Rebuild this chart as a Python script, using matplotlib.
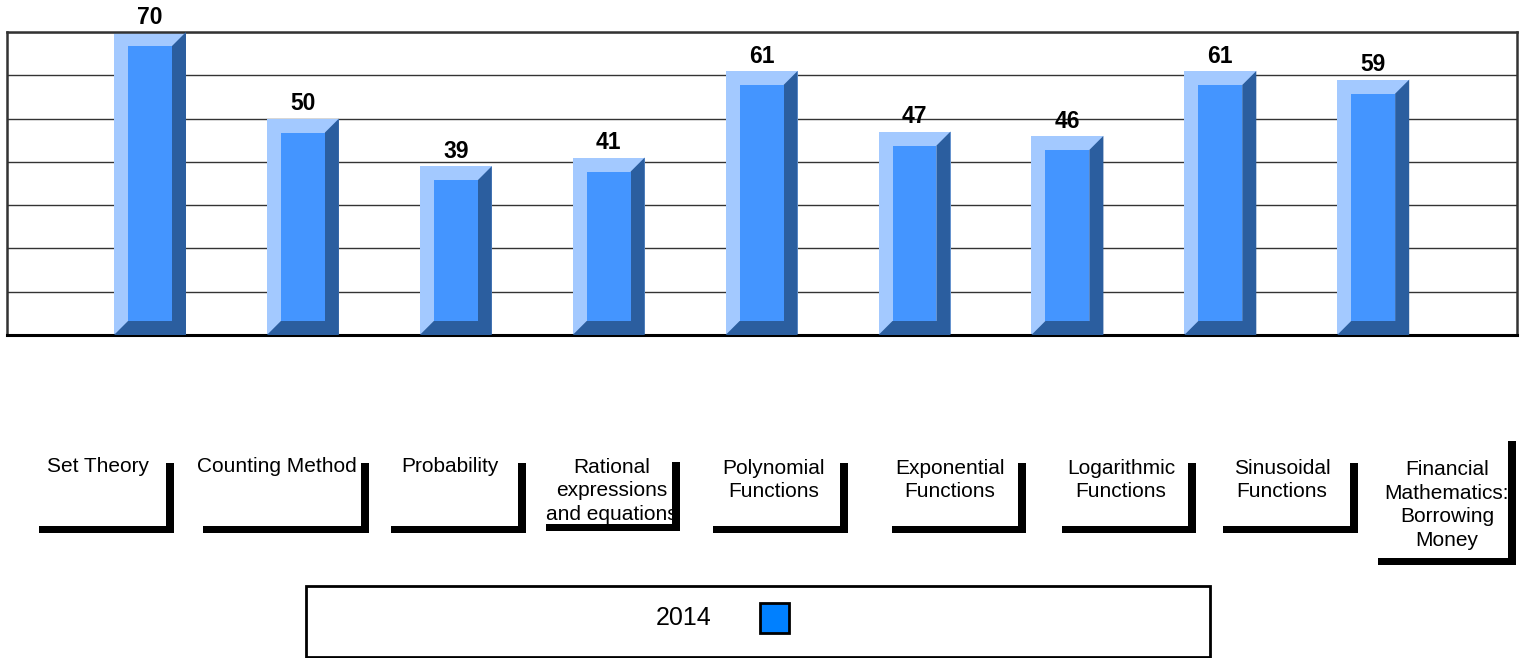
import matplotlib
matplotlib.use("Agg")
import matplotlib.pyplot as plt
from matplotlib.patches import Polygon, Rectangle

# ---- data ----
categories = ["Set Theory", "Counting Method", "Probability",
              "Rational\nexpressions\nand equations", "Polynomial\nFunctions",
              "Exponential\nFunctions", "Logarithmic\nFunctions",
              "Sinusoidal\nFunctions",
              "Financial\nMathematics:\nBorrowing\nMoney"]
values_2014 = [70, 50, 39, 41, 61, 47, 46, 61, 59]
series_name = "2014"
y_ticks = [0, 10, 20, 30, 40, 50, 60, 70]

# ---- layout (pixels in a 1524x658 canvas) ----
W, H = 1524, 658
plt.rcParams['font.family'] = ['Liberation Sans', 'DejaVu Sans']

light = "#A3C9FF"
mid = "#4495FF"
dark = "#2B5E9F"
legend_color = "#0080FF"

fig = plt.figure(figsize=(W / 100, H / 100), dpi=100)
ax_l, ax_r, ax_t, ax_b = 7, 1517, 32, 335
ax = fig.add_axes([ax_l / W, 1 - ax_b / H, (ax_r - ax_l) / W, (ax_b - ax_t) / H])

x = list(range(len(values_2014)))
px_per_x = 152.9
ax.set_xlim((ax_l - 150) / px_per_x, (ax_r - 150) / px_per_x)
ax.set_ylim(y_ticks[0], y_ticks[-1])
ax.set_yticks(y_ticks)
ax.set_xticks([])
ax.tick_params(left=False, labelleft=False)
ax.grid(axis='y', color='#333333', linewidth=1.0, zorder=0)
ax.set_axisbelow(True)
for s in ['left', 'top', 'right']:
    ax.spines[s].set_color('#333333')
    ax.spines[s].set_linewidth(1.8)
ax.spines['bottom'].set_color('black')
ax.spines['bottom'].set_linewidth(2.2)

half_w = 36 / px_per_x
bx = 14 / px_per_x
by = 14 / ((ax_b - ax_t) / (y_ticks[-1] - y_ticks[0]))

bars = ax.bar(x, values_2014, width=2 * half_w, color=light, edgecolor='none',
              zorder=2, clip_on=False)
for b, v in zip(bars, values_2014):
    x0 = b.get_x(); x1 = x0 + b.get_width(); y0 = 0; y1 = v
    ax.add_patch(Polygon([(x1, y1), (x1, y0), (x0, y0), (x0 + bx, y0 + by),
                          (x1 - bx, y0 + by), (x1 - bx, y1 - by)],
                         closed=True, facecolor=dark, edgecolor='none',
                         zorder=3, clip_on=False))
    ax.add_patch(Rectangle((x0 + bx, y0 + by), x1 - x0 - 2 * bx, y1 - y0 - 2 * by,
                           facecolor=mid, edgecolor='none', zorder=4, clip_on=False))
    ax.annotate(f"{v}", (b.get_x() + b.get_width() / 2, v), xytext=(0, 6),
                textcoords='offset points', ha='center', va='baseline',
                fontsize=16.5, fontweight='bold', annotation_clip=False)

# ---- category labels with L-shaped shadow frames ----
label_centers = [(98, 467), (277, 467), (450, 467), (612, 491), (774, 480),
                 (950, 480), (1121, 480), (1282, 480), (1447, 505)]
label_boxes = [(39, 174, 463, 533), (203, 369, 463, 533), (391, 526, 463, 533),
               (546, 680, 462, 531), (713, 848, 463, 533), (892, 1026, 463, 533),
               (1062, 1196, 463, 533), (1223, 1358, 463, 533), (1378, 1516, 441, 565)]
thick_v, thick_h = 8, 7


def fig_rect(l, r, t, b, **kw):
    fig.add_artist(Rectangle((l / W, 1 - b / H), (r - l) / W, (b - t) / H,
                             transform=fig.transFigure, **kw))


for lab, (cx, cy), (l, r, t, b) in zip(categories, label_centers, label_boxes):
    fig_rect(r - thick_v, r, t, b, facecolor='black', edgecolor='none')
    fig_rect(l, r, b - thick_h, b, facecolor='black', edgecolor='none')
    fig.text(cx / W, 1 - cy / H, lab, ha='center', va='center',
             multialignment='center', fontsize=15, linespacing=1.33)

# ---- legend ----
fig_rect(306, 1210, 586, 657, facecolor='white', edgecolor='black', linewidth=2)
fig.text(684 / W, 1 - 618 / H, series_name, ha='center', va='center', fontsize=18)
fig_rect(760, 789, 603, 633, facecolor=legend_color, edgecolor='black', linewidth=2)

fig.savefig("out.png", dpi=100)
